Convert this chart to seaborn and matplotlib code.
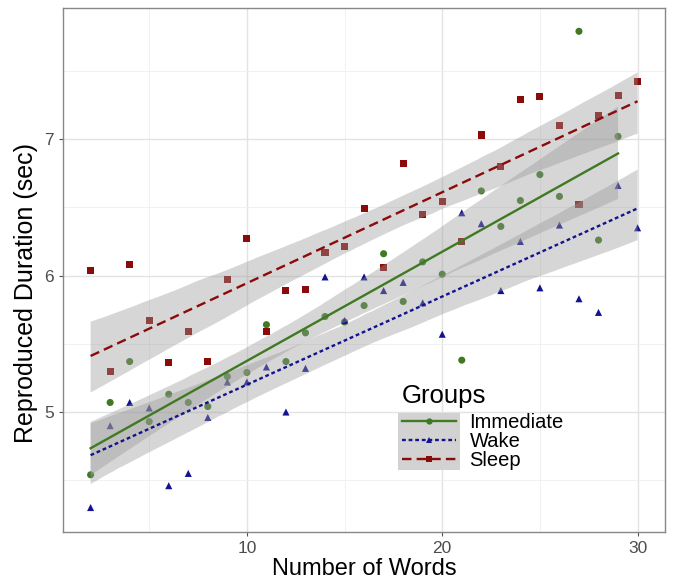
import seaborn as sns
import matplotlib.pyplot as plt
import pandas as pd
import numpy as np
from matplotlib.lines import Line2D
from matplotlib.patches import Rectangle
from matplotlib.transforms import IdentityTransform
from matplotlib.collections import PolyCollection

groups = ["Immediate", "Wake", "Sleep"]

words_immediate = list(range(2, 30))
dur_immediate = [4.54, 5.07, 5.37, 4.93, 5.13, 5.07, 5.04, 5.26, 5.29, 5.64,
                 5.37, 5.58, 5.70, 5.66, 5.78, 6.16, 5.81, 6.10, 6.01, 5.38,
                 6.62, 6.36, 6.55, 6.74, 6.58, 7.79, 6.26, 7.02]

words_wake = list(range(2, 31))
dur_wake = [4.30, 4.90, 5.07, 5.03, 4.46, 4.55, 4.96, 5.22, 5.22, 5.33,
            5.00, 5.32, 5.99, 5.67, 5.99, 5.89, 5.95, 5.80, 5.57, 6.46,
            6.38, 5.89, 6.25, 5.91, 6.37, 5.83, 5.73, 6.66, 6.35]

words_sleep = list(range(2, 31))
dur_sleep = [6.04, 5.30, 6.08, 5.67, 5.36, 5.59, 5.37, 5.97, 6.27, 5.59,
             5.89, 5.90, 6.17, 6.21, 6.49, 6.06, 6.82, 6.45, 6.54, 6.25,
             7.03, 6.80, 7.29, 7.31, 7.10, 6.52, 7.17, 7.32, 7.42]

colors = {"Immediate": "#3f7a23", "Wake": "#13138f", "Sleep": "#8b0a0a"}
markers = {"Immediate": "o", "Wake": "^", "Sleep": "s"}
dashes = {"Wake": (1.6, 1.2), "Sleep": (4, 2.2)}

df = pd.concat([
    pd.DataFrame({"Words": words_immediate, "Duration": dur_immediate, "Group": "Immediate"}),
    pd.DataFrame({"Words": words_wake, "Duration": dur_wake, "Group": "Wake"}),
    pd.DataFrame({"Words": words_sleep, "Duration": dur_sleep, "Group": "Sleep"}),
])

plt.rcParams["font.family"] = ["Liberation Sans", "DejaVu Sans"]

fig = plt.figure(figsize=(6.73, 5.79), dpi=100)
ax = fig.add_axes([0.094, 0.081, 0.894, 0.905])

# points first, ribbons drawn over them (ggplot layer order)
for g in groups:
    d = df[df.Group == g]
    sns.scatterplot(x="Words", y="Duration", data=d, ax=ax, color=colors[g],
                    marker=markers[g], s=26, edgecolor="none", zorder=2, legend=False)

# regression lines with 95% bands
for g in groups:
    d = df[df.Group == g]
    n_before = len(ax.collections)
    sns.regplot(x="Words", y="Duration", data=d, ax=ax, scatter=False, ci=95,
                n_boot=2000, seed=1, color=colors[g], truncate=True,
                line_kws={"lw": 1.7, "zorder": 4})
    for c in ax.collections[n_before:]:
        if isinstance(c, PolyCollection):
            c.set_facecolor("#999999")
            c.set_alpha(0.4)
            c.set_edgecolor("none")
            c.set_zorder(3)
    if g in dashes:
        ax.lines[-1].set_dashes(dashes[g])

ax.set_xlim(0.6, 31.4)
ax.set_ylim(4.12, 7.96)
ax.set_xticks([10, 20, 30])
ax.set_yticks([5, 6, 7])
ax.set_xticks([5, 15, 25], minor=True)
ax.set_yticks([4.5, 5.5, 6.5, 7.5], minor=True)
ax.grid(True, which="major", color="#e3e3e3", lw=1.0)
ax.grid(True, which="minor", color="#efefef", lw=0.6)
ax.set_axisbelow(True)
ax.tick_params(which="minor", length=0)
ax.tick_params(which="major", length=3, color="#555555", labelsize=12.5, labelcolor="#4d4d4d")
for s in ax.spines.values():
    s.set_color("#888888")
    s.set_linewidth(1.0)

ax.set_xlabel("Number of Words", size=17)
ax.xaxis.set_label_coords(0.5, -0.050)
ax.set_ylabel("Reproduced Duration (sec)", size=18)
ax.yaxis.set_label_coords(-0.042, 0.456)

# legend
handles = []
for g in groups:
    ln = Line2D([], [], color=colors[g], lw=1.7, marker=markers[g], markersize=4.5,
                markeredgewidth=0)
    if g in dashes:
        ln.set_dashes(dashes[g])
    handles.append(ln)

leg = ax.legend(handles, groups, title="Groups", loc="upper left",
                bbox_to_anchor=(0.563, 0.283), frameon=False, fontsize=14.5,
                title_fontsize=18.5, handlelength=2.7, labelspacing=0.0,
                handletextpad=0.65, borderpad=0, borderaxespad=0)
leg._legend_box.align = "left"
leg._legend_box.sep = 4

# grey key background (ggplot draws the ribbon fill behind each key)
fig.canvas.draw()
r = fig.canvas.get_renderer()
tb = [t.get_window_extent(r) for t in leg.get_texts()]
hb = [h.get_window_extent(r) for h in leg.legend_handles]
x0 = min(b.x0 for b in hb) - 1
x1 = max(b.x1 for b in hb) + 1
y0 = min(b.y0 for b in tb)
y1 = max(b.y1 for b in tb)
ax.add_patch(Rectangle((x0, y0), x1 - x0, y1 - y0, transform=IdentityTransform(),
                       facecolor="#d2d2d2", edgecolor="none", zorder=4.5, clip_on=False))

plt.savefig("out.png", dpi=100)
